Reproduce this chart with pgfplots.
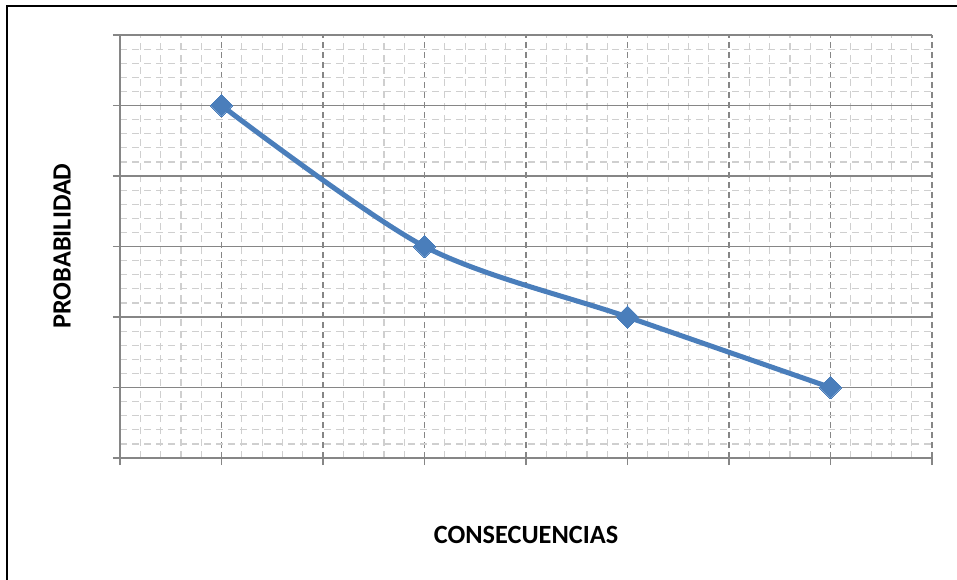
\documentclass[border=0pt]{standalone}
\usepackage{pgfplots}
\pgfplotsset{compat=1.18}
\usepackage{fontspec}
\setmainfont{Carlito}
\definecolor{lineblue}{HTML}{4A7EBB}
\definecolor{majgray}{HTML}{868686}
\definecolor{mingray}{HTML}{CFCFCF}
\begin{document}
\begin{tikzpicture}[x=1pt,y=1pt]
\path[use as bounding box] (0,0) rectangle (957,579);
\draw[black, line width=1.8pt] (7,-5) -- (7,573) -- (962,573);
\begin{axis}[
  at={(120pt,121pt)}, anchor=south west,
  scale only axis, width=812pt, height=423pt,
  xmin=0, xmax=8, ymin=0, ymax=6,
  xtick={0,...,8}, ytick={0,...,6},
  xticklabels={}, yticklabels={},
  minor tick num=4,
  axis lines*=left,
  axis line style={majgray, line width=1.5pt},
  tick align=outside,
  major tick length=7pt, minor tick length=0pt,
  tick style={majgray, line width=1.5pt},
  grid=both,
  major x grid style={majgray, line width=1.5pt, dash pattern=on 6pt off 4pt},
  major y grid style={majgray, line width=1.5pt},
  minor grid style={mingray, line width=1.2pt, dash pattern=on 7pt off 5pt},
  xlabel={\fontsize{26.3}{30}\selectfont\bfseries CONSECUENCIAS},
  ylabel={\fontsize{26.3}{30}\selectfont\bfseries PROBABILIDAD},
  every axis x label/.style={at={(rel axis cs:0.5,-0.182)}, anchor=center},
  every axis y label/.style={at={(rel axis cs:-0.0714,0.501)}, anchor=center, rotate=90},
  clip=false,
]
\addplot[lineblue, line width=5pt, smooth, tension=0.5,
  mark=square*, mark size=7.8pt, mark options={rotate=45, solid, fill=lineblue, draw=lineblue, line width=0pt}]
  coordinates {(1,5) (3,3) (5,2) (7,1)};
\end{axis}
\end{tikzpicture}
\end{document}
